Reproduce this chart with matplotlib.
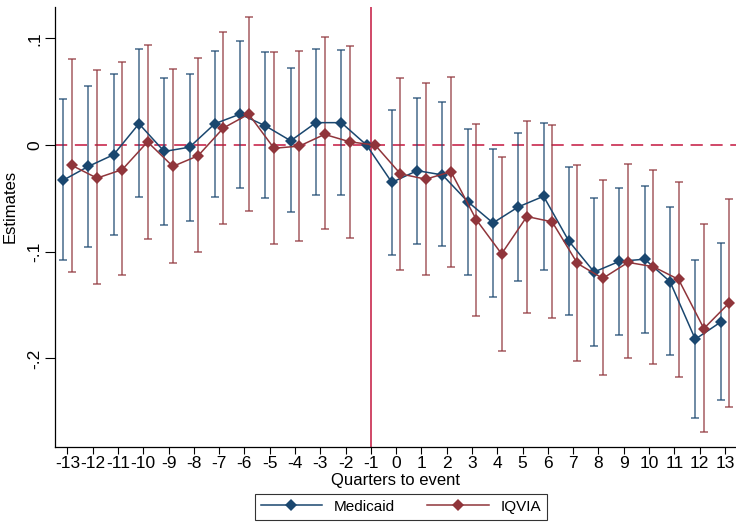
import matplotlib
matplotlib.use("Agg")
import matplotlib.pyplot as plt
from matplotlib.lines import Line2D
import numpy as np

# Event-study estimates by quarter relative to the event (-1 is the reference quarter)
quarters = list(range(-13, 14))

medicaid_est = [-0.033, -0.020, -0.009, 0.020, -0.006, -0.002, 0.020, 0.029, 0.018, 0.004,
                0.021, 0.021, 0.0, -0.035, -0.024, -0.028, -0.053, -0.073, -0.058, -0.048,
                -0.090, -0.119, -0.109, -0.107, -0.128, -0.182, -0.166]
medicaid_hi = [0.043, 0.055, 0.067, 0.090, 0.063, 0.067, 0.088, 0.098, 0.087, 0.072,
               0.090, 0.089, np.nan, 0.033, 0.044, 0.040, 0.015, -0.004, 0.011, 0.021,
               -0.021, -0.050, -0.040, -0.038, -0.058, -0.108, -0.092]
medicaid_lo = [-0.108, -0.096, -0.084, -0.049, -0.075, -0.071, -0.049, -0.040, -0.050, -0.063,
               -0.047, -0.047, np.nan, -0.103, -0.093, -0.095, -0.122, -0.142, -0.127, -0.117,
               -0.159, -0.188, -0.178, -0.176, -0.197, -0.256, -0.239]

iqvia_est = [-0.019, -0.031, -0.023, 0.003, -0.020, -0.010, 0.016, 0.029, -0.003, -0.001,
             0.010, 0.003, 0.0, -0.027, -0.032, -0.025, -0.070, -0.102, -0.067, -0.072,
             -0.111, -0.125, -0.110, -0.114, -0.126, -0.172, -0.148]
iqvia_hi = [0.081, 0.070, 0.078, 0.094, 0.071, 0.082, 0.106, 0.120, 0.087, 0.088,
            0.101, 0.093, np.nan, 0.063, 0.058, 0.064, 0.020, -0.011, 0.023, 0.019,
            -0.019, -0.033, -0.018, -0.023, -0.035, -0.074, -0.051]
iqvia_lo = [-0.119, -0.130, -0.122, -0.088, -0.111, -0.100, -0.074, -0.062, -0.093, -0.090,
            -0.079, -0.087, np.nan, -0.117, -0.122, -0.114, -0.160, -0.193, -0.157, -0.162,
            -0.202, -0.216, -0.200, -0.205, -0.217, -0.269, -0.246]

ytick_vals = [-0.2, -0.1, 0.0, 0.1]
ytick_labels = ["-.2", "-.1", "0", ".1"]

NAVY = "#1a476f"
MAROON = "#90353b"
CRIMSON = "#c4163f"

axis_font = ["Liberation Sans Narrow", "Liberation Sans", "DejaVu Sans"]
plt.rcParams["font.family"] = ["Liberation Sans", "DejaVu Sans"]

fig = plt.figure(figsize=(7.36, 5.23), dpi=100)
ax = fig.add_axes([54.5 / 736, 0.1446, (736 - 54.5) / 736, 0.9866 - 0.1446])

x = np.array(quarters, dtype=float)
offset = 0.17


def draw_series(xpos, est, lo, hi, color, label):
    est = np.array(est)
    lo = np.array(lo)
    hi = np.array(hi)
    ok = ~np.isnan(lo)
    ax.errorbar(xpos[ok], est[ok], yerr=[est[ok] - lo[ok], hi[ok] - est[ok]],
                fmt="none", ecolor=color, elinewidth=1.1, capsize=3.2,
                capthick=1.1, alpha=0.8, zorder=2)
    ax.plot(xpos, est, color=color, lw=1.1, marker="D", markersize=6.5,
            markeredgewidth=0, zorder=4, label=label)


ax.axhline(0, color=CRIMSON, lw=1.1, dashes=(8, 5), zorder=1)
ax.axvline(-1, color=CRIMSON, lw=1.1, zorder=1)

draw_series(x - offset, medicaid_est, medicaid_lo, medicaid_hi, NAVY, "Medicaid")
draw_series(x + offset, iqvia_est, iqvia_lo, iqvia_hi, MAROON, "IQVIA")

ax.set_xlim(-13.51, 13.44)
ax.set_ylim(-0.2834, 0.1294)

ax.set_xticks(quarters)
ax.set_xticklabels([str(q) for q in quarters], family=axis_font, fontsize=12.5)
ax.set_yticks(ytick_vals)
ax.set_yticklabels(ytick_labels, family=axis_font, fontsize=12.5,
                   rotation=90, va="center")

ax.tick_params(axis="x", length=5, width=0.8, pad=1)
ax.tick_params(axis="y", length=7, width=0.8, pad=2)

for side in ("top", "right"):
    ax.spines[side].set_visible(False)
for side in ("left", "bottom"):
    ax.spines[side].set_linewidth(0.9)

ax.set_xlabel("Quarters to event", family=axis_font, fontsize=12, labelpad=2)
ax.set_ylabel("Estimates", family=axis_font, fontsize=12)
ax.yaxis.set_label_coords(-0.054, 0.548)

handles = [
    Line2D([], [], color=NAVY, lw=1.1, marker="D", markersize=6, markeredgewidth=0),
    Line2D([], [], color=MAROON, lw=1.1, marker="D", markersize=6, markeredgewidth=0),
]
leg = fig.legend(handles, ["Medicaid", "IQVIA"], loc="center",
                 bbox_to_anchor=(0.545, 0.031), ncol=2, frameon=True,
                 fancybox=False, edgecolor="black", fontsize=11,
                 handlelength=4.0, handletextpad=0.8, columnspacing=2.1,
                 borderpad=0.4)
leg.get_frame().set_linewidth(0.8)

fig.savefig("out.png", dpi=100)
